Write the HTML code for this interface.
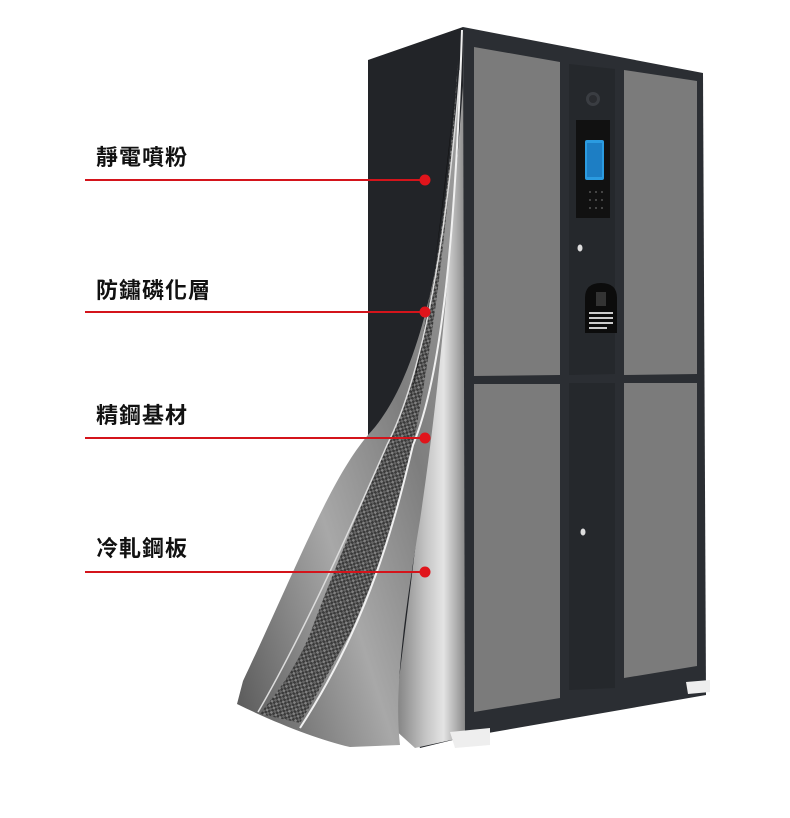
<!DOCTYPE html>
<html><head><meta charset="utf-8"><style>
html,body{margin:0;padding:0;background:#fff;}
body{width:790px;height:818px;overflow:hidden;position:relative;}
.lbl{position:absolute;left:96px;font-family:"Liberation Sans","Noto Sans CJK TC",sans-serif;font-weight:bold;font-size:22px;color:#111;line-height:24px;letter-spacing:1px;}
svg{position:absolute;left:0;top:0;}
</style></head><body>
<svg width="790" height="818" viewBox="0 0 790 818">
<defs>
<linearGradient id="silver" x1="0" y1="0" x2="1" y2="0">
<stop offset="0" stop-color="#7a7a7a"/><stop offset="0.45" stop-color="#c4c4c4"/><stop offset="0.7" stop-color="#e4e4e4"/><stop offset="1" stop-color="#8a8a8a"/>
</linearGradient>
<linearGradient id="peel1" x1="0" y1="1" x2="1" y2="0">
<stop offset="0" stop-color="#555"/><stop offset="0.35" stop-color="#a8a8a8"/><stop offset="0.6" stop-color="#7e7e7e"/><stop offset="1" stop-color="#a5a5a5"/>
</linearGradient>
<pattern id="carbon" width="5" height="5" patternUnits="userSpaceOnUse" patternTransform="rotate(30)">
<rect width="5" height="5" fill="#3a3a3a"/><rect width="2.5" height="2.5" fill="#808080"/><rect x="2.5" y="2.5" width="2.5" height="2.5" fill="#666"/>
</pattern>
</defs>
<polygon points="368,60 463,27 465,737 420,748 368,600" fill="#222428"/>
<polygon points="458,150 465,60 465,737 415,748 393,728 415,550 440,350" fill="url(#silver)"/>
<polygon points="463,27 703,73 706,695 465,737" fill="#2b2e33"/>
<polygon points="474,47 560,62 560,375 474,376" fill="#7b7b7b"/>
<polygon points="624,70 697,81 697,374 624,375" fill="#7b7b7b"/>
<polygon points="569,64 615,69 615,374 569,375" fill="#25282c"/>
<polygon points="569,383 615,383 615,688 569,690" fill="#25282c"/>
<polygon points="474,384 560,384 560,698 474,712" fill="#7b7b7b"/>
<polygon points="624,383 697,383 697,666 624,678" fill="#7b7b7b"/>
<circle cx="593" cy="99" r="7" fill="#3a3d42"/>
<circle cx="593" cy="99" r="4" fill="#2a2c30"/>
<rect x="576" y="120" width="34" height="98" fill="#111"/>
<rect x="585" y="140" width="19" height="40" rx="2" fill="#2b9be0"/>
<rect x="587" y="143" width="15" height="34" fill="#1d7ec4"/>
<g fill="#555"><circle cx="590" cy="192" r="1"/><circle cx="596" cy="192" r="1"/><circle cx="602" cy="192" r="1"/><circle cx="590" cy="200" r="1"/><circle cx="596" cy="200" r="1"/><circle cx="602" cy="200" r="1"/><circle cx="590" cy="208" r="1"/><circle cx="596" cy="208" r="1"/><circle cx="602" cy="208" r="1"/></g>
<ellipse cx="580" cy="248" rx="2.5" ry="3.5" fill="#ddd"/>
<path d="M585,298 Q585,283 601,283 Q617,283 617,298 L617,333 L585,333 Z" fill="#0c0c0c"/>
<rect x="596" y="292" width="10" height="14" fill="#333"/>
<g fill="#ccc"><rect x="589" y="312" width="24" height="2"/><rect x="589" y="317" width="24" height="2"/><rect x="589" y="322" width="24" height="2"/><rect x="589" y="327" width="18" height="2"/></g>
<ellipse cx="583" cy="532" rx="2.5" ry="3.5" fill="#ddd"/>
<polygon points="450,732 490,728 490,745 455,748" fill="#eee"/>
<polygon points="686,682 710,680 710,692 688,694" fill="#eee"/>
<!-- peel outer sheet -->
<path d="M462,30 C450,250 420,380 368,435 C330,480 300,560 243,681 L237,704 C280,725 320,740 350,747 L400,745 C395,700 400,640 420,520 C435,420 455,250 462,30 Z" fill="url(#peel1)"/>
<path d="M458,60 C445,250 420,380 387,445 C355,520 330,580 310,634 C290,680 270,700 260,714 L300,723 C320,690 335,660 350,634 C375,580 395,520 413,445 C430,360 450,220 458,60 Z" fill="url(#carbon)"/>
<path d="M455,90 C440,230 428,330 410,400 C425,330 440,250 455,90 Z" fill="#111"/>
<path d="M462,30 C455,250 440,380 413,445 C395,520 370,620 300,728" stroke="#f0f0f0" stroke-width="2" fill="none"/>
<path d="M460,70 C445,260 420,380 387,445 C350,530 300,640 258,712" stroke="#dcdcdc" stroke-width="1.5" fill="none"/>
<g stroke="#d4141b" stroke-width="2">
<line x1="85" y1="180" x2="425" y2="180"/>
<line x1="85" y1="312" x2="425" y2="312"/>
<line x1="85" y1="438" x2="425" y2="438"/>
<line x1="85" y1="572" x2="425" y2="572"/>
</g>
<g fill="#e0141b">
<circle cx="425" cy="180" r="5.5"/><circle cx="425" cy="312" r="5.5"/><circle cx="425" cy="438" r="5.5"/><circle cx="425" cy="572" r="5.5"/>
</g>
</svg>
<div class="lbl" style="top:146px">靜電噴粉</div>
<div class="lbl" style="top:279px">防鏽磷化層</div>
<div class="lbl" style="top:404px">精鋼基材</div>
<div class="lbl" style="top:537px">冷軋鋼板</div>
</body></html>
